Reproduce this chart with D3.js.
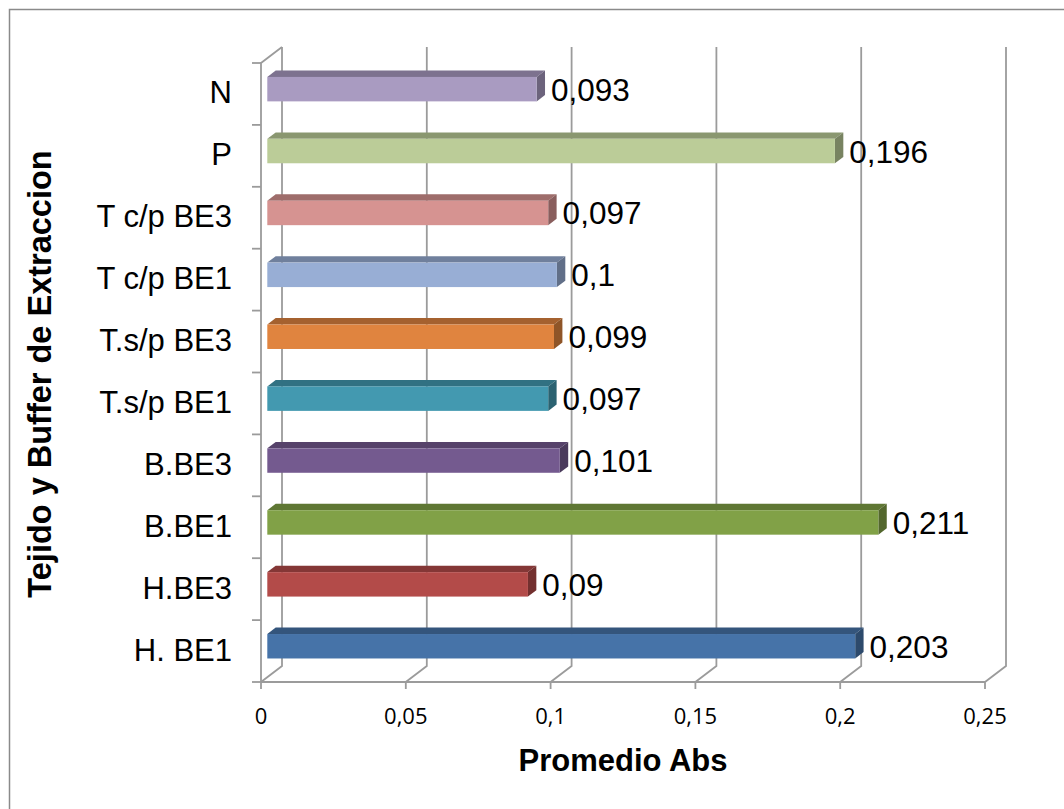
<!DOCTYPE html>
<html>
<head>
<meta charset="utf-8">
<script src="https://cdn.jsdelivr.net/npm/d3@7"></script>
<style>
  html, body { margin: 0; padding: 0; background: #fff; }
  svg { display: block; }
</style>
</head>
<body>
<svg id="chart" width="1064" height="809"></svg>
<script>
// Absorbance averages per tissue / extraction buffer
const categories = ["H. BE1", "H.BE3", "B.BE1", "B.BE3", "T.s/p BE1", "T.s/p BE3", "T c/p BE1", "T c/p BE3", "P", "N"];
const values = [0.203, 0.09, 0.211, 0.101, 0.097, 0.099, 0.1, 0.097, 0.196, 0.093];
const valueLabels = ["0,203", "0,09", "0,211", "0,101", "0,097", "0,099", "0,1", "0,097", "0,196", "0,093"];
const barColors = ["#4673A8", "#B34B49", "#81A147", "#745A8F", "#4399B0", "#E0843F", "#98AED5", "#D69391", "#BBCC98", "#A99BC1"];
const xTicks = [0, 0.05, 0.1, 0.15, 0.2, 0.25];
const xTickLabels = ["0", "0,05", "0,1", "0,15", "0,2", "0,25"];
const xTitle = "Promedio Abs";
const yTitle = "Tejido y Buffer de Extraccion";

const svg = d3.select("#chart");

// Plot box: front plane of the 3D frame plus a depth offset for the back wall
const front = { left: 261, right: 985, top: 63, bottom: 682 };
const depth = { dx: 21, dy: -16 };
const barDepth0 = 0.3, barDepth1 = 0.7;   // bars sit in the middle of the depth
const gridColor = "#9B9B9B";

const x = d3.scaleLinear().domain([0, 0.25]).range([front.left, front.right]);
const y = d3.scaleBand()
  .domain(categories.slice().reverse())
  .range([front.top, front.bottom])
  .paddingInner(0.605)
  .paddingOuter(0.3025);
const yEdge = d3.scaleBand().domain(categories.slice().reverse()).range([front.top, front.bottom]);

// Outer chart border
svg.append("rect")
  .attr("x", 9.5).attr("y", 9.5)
  .attr("width", 1100).attr("height", 900)
  .attr("fill", "none").attr("stroke", "#8A8A8A").attr("stroke-width", 1.5);

const frame = svg.append("g").attr("fill", "none").attr("stroke", gridColor).attr("stroke-width", 1.8);

// Back wall gridlines with their floor segments and ticks
xTicks.forEach(t => {
  const xf = x(t), xb = x(t) + depth.dx;
  frame.append("path").attr("d",
    `M${xb},${front.top + depth.dy}L${xb},${front.bottom + depth.dy}L${xf},${front.bottom}L${xf},${front.bottom + 7}`);
});

// Floor front edge
frame.append("line")
  .attr("x1", front.left).attr("x2", front.right)
  .attr("y1", front.bottom).attr("y2", front.bottom);

// Left wall: front edge, top edge, category ticks
frame.append("path").attr("d",
  `M${front.left},${front.bottom}L${front.left},${front.top}L${front.left + depth.dx},${front.top + depth.dy}`);
const edges = categories.slice().reverse().map(c => yEdge(c)).concat([front.bottom]);
edges.forEach(e => {
  frame.append("line")
    .attr("x1", front.left - 9).attr("x2", front.left)
    .attr("y1", e).attr("y2", e);
});

// Bars as 3D boxes: front face, top face, right side face
const bx = depth.dx * barDepth0, by = depth.dy * barDepth0;
const bdx = depth.dx * (barDepth1 - barDepth0), bdy = depth.dy * (barDepth1 - barDepth0);

const bars = svg.append("g");
categories.forEach((c, i) => {
  const v = values[i];
  const col = d3.color(barColors[i]);
  const x0 = x(0) + bx, x1 = x(v) + bx;
  const y0 = y(c) + by, y1 = y(c) + y.bandwidth() + by;
  const g = bars.append("g");
  g.append("path")
    .attr("d", `M${x0},${y0}L${x0 + bdx},${y0 + bdy}L${x1 + bdx},${y0 + bdy}L${x1},${y0}Z`)
    .attr("fill", col.darker(0.85));
  g.append("path")
    .attr("d", `M${x1},${y0}L${x1 + bdx},${y0 + bdy}L${x1 + bdx},${y1 + bdy}L${x1},${y1}Z`)
    .attr("fill", col.darker(1.25));
  g.append("rect")
    .attr("x", x0).attr("y", y0)
    .attr("width", x1 - x0).attr("height", y1 - y0)
    .attr("fill", col);

  // Value label
  svg.append("text")
    .attr("x", x1 + bdx + 6)
    .attr("y", (y0 + y1) / 2 + 11.5)
    .attr("font-family", "Liberation Sans, Arial, sans-serif")
    .attr("font-size", 31.5)
    .attr("fill", "#000")
    .text(valueLabels[i]);
});

// Category labels
svg.append("g").selectAll("text").data(categories).join("text")
  .attr("x", 232)
  .attr("y", d => y(d) + y.bandwidth() / 2 + 9.5)
  .attr("text-anchor", "end")
  .attr("font-family", "Liberation Sans, Arial, sans-serif")
  .attr("font-size", 31)
  .attr("fill", "#000")
  .text(d => d);

// Value axis tick labels
svg.append("g").selectAll("text").data(xTicks).join("text")
  .attr("x", d => x(d))
  .attr("y", 724)
  .attr("text-anchor", "middle")
  .attr("font-family", "Open Sans, sans-serif")
  .attr("font-size", 22)
  .attr("fill", "#000")
  .text((d, i) => xTickLabels[i]);

// Axis titles
svg.append("text")
  .attr("x", 623).attr("y", 771)
  .attr("text-anchor", "middle")
  .attr("font-family", "Liberation Sans, Arial, sans-serif")
  .attr("font-weight", "bold")
  .attr("font-size", 31)
  .text(xTitle);

svg.append("text")
  .attr("transform", "translate(51,374) rotate(-90)")
  .attr("text-anchor", "middle")
  .attr("font-family", "Liberation Sans, Arial, sans-serif")
  .attr("font-weight", "bold")
  .attr("font-size", 32.5)
  .text(yTitle);
</script>
</body>
</html>
